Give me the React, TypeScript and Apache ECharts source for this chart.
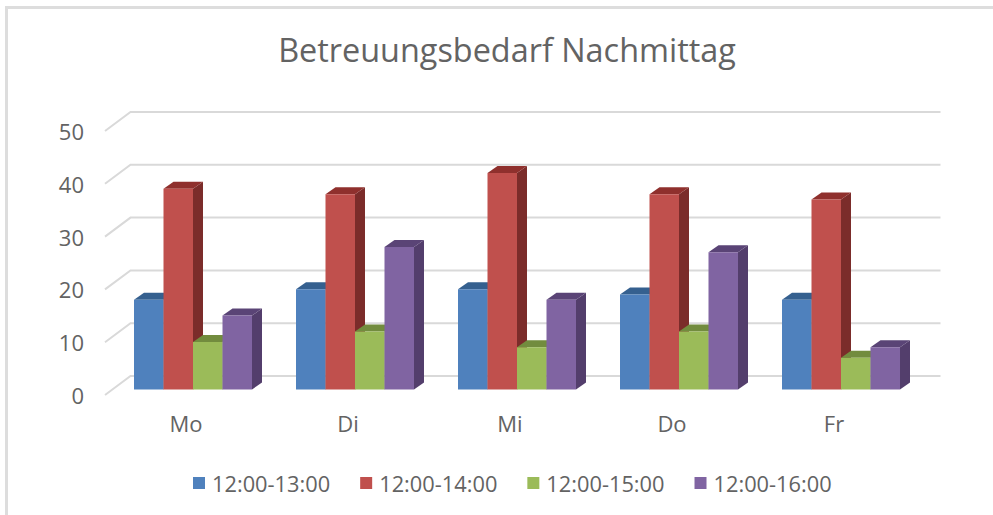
import React, { useEffect, useRef } from "react";
import * as echarts from "echarts";

const categories = ["Mo", "Di", "Mi", "Do", "Fr"];
const seriesNames = ["12:00-13:00", "12:00-14:00", "12:00-15:00", "12:00-16:00"];
const slot1 = [17, 19, 19, 18, 17];
const slot2 = [38, 37, 41, 37, 36];
const slot3 = [9, 11, 8, 11, 6];
const slot4 = [14, 27, 17, 26, 8];
const seriesValues = [slot1, slot2, slot3, slot4];
const gridTicks = [0, 10, 20, 30, 40, 50];
const frontColors = ["#4F81BD", "#C0504D", "#9BBB59", "#8064A2"];
const topColors = ["#35608F", "#8F302D", "#728C3E", "#5A4476"];
const sideColors = ["#2F5580", "#7B2C2A", "#627A35", "#533E6C"];

const FONT = "'Open Sans', sans-serif";
const TEXT = "#636363";
const GRID_LINE = "#D9D9D9";
const WALL_DX = 25.5;
const WALL_DY = -19;
const BAR_DX = 7;
const BAR_DY = -5.5;
const DEPTH_DX = 10;
const DEPTH_DY = -7;
const BAR_W = 29.5;

export default function App() {
  const ref = useRef<HTMLDivElement>(null);
  useEffect(() => {
    const chart = echarts.init(ref.current!, undefined, { renderer: "svg" });
    const barSeries = seriesValues.map((values, s) => ({
      type: "custom",
      name: seriesNames[s],
      xAxisIndex: 0,
      yAxisIndex: 0,
      z: 5,
      itemStyle: { color: frontColors[s] },
      data: values.map((v, i) => [i, v]),
      renderItem: (_: any, api: any) => {
        const base = api.coord([api.value(0), 0]);
        const top = api.coord([api.value(0), api.value(1)]);
        const x = base[0] + BAR_DX + (s - 2) * BAR_W;
        const y0 = base[1] + BAR_DY;
        const y1 = top[1] + BAR_DY;
        const xr = x + BAR_W;
        return {
          type: "group",
          children: [
            {
              type: "polygon",
              shape: { points: [[xr, y1], [xr + DEPTH_DX, y1 + DEPTH_DY], [xr + DEPTH_DX, y0 + DEPTH_DY], [xr, y0]] },
              style: { fill: sideColors[s] },
            },
            {
              type: "polygon",
              shape: { points: [[x, y1], [x + DEPTH_DX, y1 + DEPTH_DY], [xr + DEPTH_DX, y1 + DEPTH_DY], [xr, y1]] },
              style: { fill: topColors[s] },
            },
            { type: "rect", shape: { x, y: y1, width: BAR_W, height: y0 - y1 }, style: { fill: frontColors[s] } },
          ],
        };
      },
    }));
    const wallSeries = {
      type: "custom",
      xAxisIndex: 0,
      yAxisIndex: 0,
      z: 1,
      silent: true,
      data: gridTicks.map((t) => [0, t]),
      renderItem: (params: any, api: any) => {
        const p = api.coord([0, api.value(1)]);
        const left = params.coordSys.x;
        const right = left + params.coordSys.width;
        const lineStyle = { stroke: GRID_LINE, lineWidth: 2, fill: "none" };
        return {
          type: "polyline",
          shape: {
            points: [
              [left, p[1]],
              [left + WALL_DX, p[1] + WALL_DY],
              [right + WALL_DX, p[1] + WALL_DY],
            ],
          },
          style: lineStyle,
        };
      },
    };
    chart.setOption({
      animation: false,
      backgroundColor: "#FFFFFF",
      title: {
        text: "Betreuungsbedarf Nachmittag",
        left: 502,
        top: 28,
        textAlign: "center",
        textStyle: { fontFamily: FONT, fontSize: 32.4, fontWeight: 400, color: TEXT },
      },
      legend: {
        data: seriesNames,
        left: 188,
        top: 467,
        icon: "rect",
        itemWidth: 12,
        itemHeight: 12,
        itemGap: 30,
        textStyle: { fontFamily: FONT, fontSize: 21.8, color: TEXT, padding: [0, 0, 0, 2] },
      },
      grid: { left: 105, top: 131, width: 810, height: 264 },
      xAxis: {
        type: "category",
        data: categories,
        axisLine: { show: false },
        axisTick: { show: false },
        axisLabel: { fontFamily: FONT, fontSize: 22, color: TEXT, margin: 17 },
      },
      yAxis: {
        type: "value",
        min: 0,
        max: 50,
        interval: 10,
        axisLine: { show: false },
        axisTick: { show: false },
        splitLine: { show: false },
        axisLabel: { fontFamily: FONT, fontSize: 22, color: TEXT, margin: 21, padding: [2, 0, 0, 0] },
      },
      graphic: [
        { type: "rect", silent: true, shape: { x: 6.5, y: 7.5, width: 1100, height: 600 }, style: { fill: "none", stroke: "#DDDDDD", lineWidth: 3 } },
      ],
      series: [wallSeries, ...barSeries],
    });
    return () => chart.dispose();
  }, []);
  return <div ref={ref} style={{ position: "absolute", left: 0, top: 0, width: 993, height: 515 }} />;
}
